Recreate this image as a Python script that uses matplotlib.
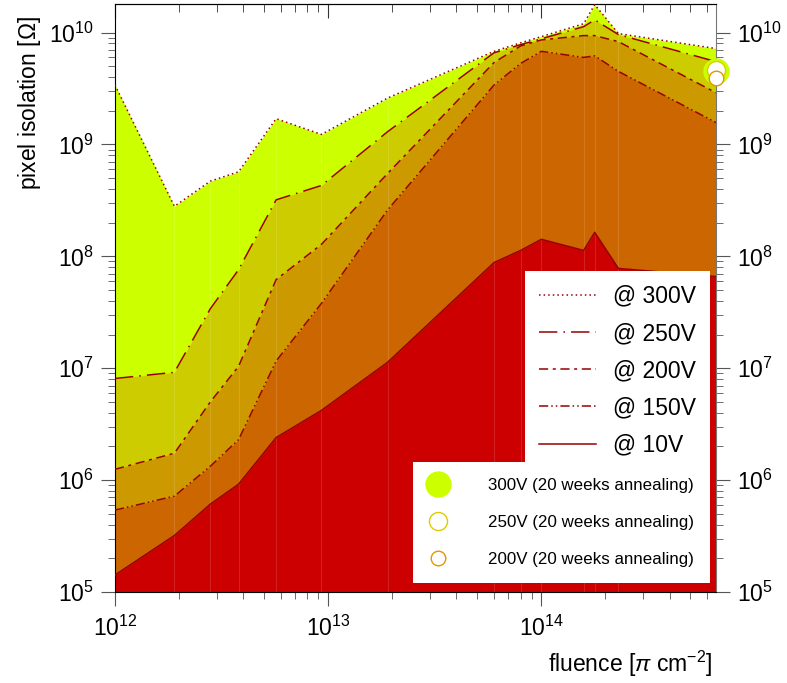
import matplotlib
matplotlib.use('Agg')
import matplotlib.pyplot as plt

plt.rcParams['font.family'] = ['Liberation Sans', 'DejaVu Sans']
plt.rcParams['mathtext.fontset'] = 'custom'
plt.rcParams['mathtext.rm'] = 'Liberation Sans'
plt.rcParams['mathtext.it'] = 'Liberation Sans:italic'

# fluence points [pi cm^-2]
fluence = [1e12, 1.9e12, 2.8e12, 3.8e12, 5.7e12, 9.3e12, 1.9e13,
           6e13, 8e13, 1e14, 1.58e14, 1.78e14, 2.3e14, 6.6e14]

# pixel isolation [Ohm] per bias voltage
iso_300 = [3.4e9, 2.8e8, 4.7e8, 5.7e8, 1.7e9, 1.23e9, 2.6e9,
           6.8e9, 8.1e9, 9.2e9, 1.2e10, 1.78e10, 9.8e9, 7.2e9]
iso_250 = [8.1e6, 9.2e6, 3.4e7, 7.6e7, 3.2e8, 4.3e8, 1.3e9,
           6.6e9, 7.8e9, 8.8e9, 1.13e10, 1.3e10, 9.6e9, 5.5e9]
iso_200 = [1.25e6, 1.74e6, 5e6, 1.04e7, 6.2e7, 1.28e8, 5.5e8,
           5.4e9, 7.6e9, 8.6e9, 9.4e9, 9.4e9, 8.3e9, 2.9e9]
iso_150 = [5.4e5, 7.2e5, 1.33e6, 2.3e6, 1.16e7, 3.8e7, 2.6e8,
           3.4e9, 5.3e9, 6.8e9, 6e9, 6.2e9, 4.5e9, 1.57e9]
iso_10 = [1.42e5, 3.2e5, 6.1e5, 9.2e5, 2.4e6, 4.2e6, 1.13e7,
          8.8e7, 1.13e8, 1.42e8, 1.13e8, 1.64e8, 7.8e7, 6.6e7]

# after 20 weeks annealing
fluence_ann = [6.6e14]
ann_300 = [4.5e9]
ann_250 = [4.6e9]
ann_200 = [3.9e9]

series = [
    (iso_300, '#ccff00', (0, (1, 2)), '@ 300V'),
    (iso_250, '#cccc00', (0, (12, 4, 1, 4)), '@ 250V'),
    (iso_200, '#cc9900', (0, (6, 3, 2, 3)), '@ 200V'),
    (iso_150, '#cc6600', (0, (6, 2, 1, 2, 1, 2)), '@ 150V'),
    (iso_10, '#cc0000', '-', '@ 10V'),
]

fig = plt.figure(figsize=(7.87, 6.83), dpi=100)
ax = fig.add_axes([0.1461, 0.1332, 0.7637, 0.8609])

line_handles = []
for vals, fc, ls, lab in series:
    ax.fill_between(fluence, 1e5, vals, color=fc, lw=0, zorder=1)
    ln, = ax.plot(fluence, vals, color='#990000', lw=1.1, ls=ls, label=lab, zorder=3)
    line_handles.append(ln)

# faint seams at the measured fluences
ax.vlines(fluence[1:-1], 1e5, iso_300[1:-1], colors='white', alpha=0.13, lw=0.8, zorder=2)

m1, = ax.plot(fluence_ann, ann_300, 'o', ms=18, mfc='#ccff00', mec='#ccff00',
              clip_on=False, zorder=5, label='300V (20 weeks annealing)')
m2, = ax.plot(fluence_ann, ann_250, 'o', ms=13, mfc='white', mec='#ddcc00', mew=1,
              clip_on=False, zorder=6, label='250V (20 weeks annealing)')
m3, = ax.plot(fluence_ann, ann_200, 'o', ms=10.5, mfc='white', mec='#dd9900', mew=1,
              clip_on=False, zorder=7, label='200V (20 weeks annealing)')

ax.set_xscale('log')
ax.set_yscale('log')
ax.set_xlim(1e12, 6.6e14)
ax.set_ylim(1e5, 1.8e10)

ax.tick_params(which='both', direction='out', color='#555555', labelsize=16.5)
ax.tick_params(which='major', length=10)
ax.tick_params(which='minor', length=5)
ax.tick_params(axis='x', which='both', top=False, pad=7)
ax.tick_params(axis='y', which='both', right=True, labelright=True, pad=5)

top = ax.secondary_xaxis('top')
top.tick_params(which='both', direction='in', labeltop=False, color='#333333')
top.tick_params(which='major', length=10)
top.tick_params(which='minor', length=6)

ax.spines['right'].set_color('#777777')

ax.set_ylabel('pixel isolation [$\\Omega$]', fontsize=16.5, loc='top')
ax.yaxis.set_label_coords(-0.12, 0.98)
ax.set_xlabel('fluence [$\\pi$ cm$^{-2}$]', fontsize=16.5, loc='right')
ax.xaxis.set_label_coords(0.995, -0.097)

leg1 = ax.legend(handles=line_handles, loc='upper right', bbox_to_anchor=(0.99, 0.546),
                 borderaxespad=0, fontsize=16.5, handlelength=2.5, handletextpad=0.75,
                 labelspacing=0.62, borderpad=0.6, fancybox=False, framealpha=1,
                 facecolor='white', edgecolor='none')
leg1.set_zorder(10)
ax.add_artist(leg1)
leg2 = ax.legend(handles=[m1, m2, m3], loc='lower right', bbox_to_anchor=(0.99, 0.015),
                 borderaxespad=0, fontsize=12.2, handlelength=1.1, handletextpad=2.4,
                 labelspacing=1.3, borderpad=0.95, fancybox=False, framealpha=1,
                 facecolor='white', edgecolor='none')
leg2.set_zorder(11)

fig.savefig('out.png', dpi=100)
